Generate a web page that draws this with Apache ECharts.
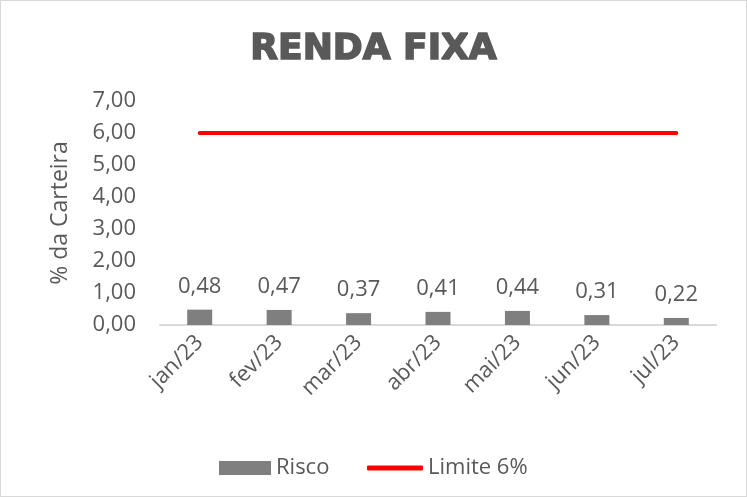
<!DOCTYPE html>
<html>
<head>
<meta charset="utf-8">
<script src="https://cdn.jsdelivr.net/npm/echarts@6/dist/echarts.min.js"></script>
<style>
html,body{margin:0;padding:0;background:#fff;}
#chart{width:745px;height:495px;border:1px solid #d9d9d9;}
</style>
</head>
<body>
<div id="chart"></div>
<script>
// categorias e valores
var meses = ['jan/23','fev/23','mar/23','abr/23','mai/23','jun/23','jul/23'];
var risco = [0.48, 0.47, 0.37, 0.41, 0.44, 0.31, 0.22];
var limite = [6, 6, 6, 6, 6, 6, 6];

var corTexto = '#595959';
var fonte = 'Open Sans';

function virgula(v){
    return v.toFixed(2).replace('.', ',');
}

var myChart = echarts.init(document.getElementById('chart'));
var option = {
    backgroundColor:'#fff',
    animation:false,
    title:{
        text:'RENDA FIXA',
        left:'center',
        top:26,
        textStyle:{
            color:corTexto,
            fontFamily:'DejaVu Sans',
            fontWeight:'bold',
            fontSize:36,
            textBorderColor:corTexto,
            textBorderWidth:1.6
        }
    },
    grid:{left:159, right:30, top:100, bottom:171},
    legend:[{
        top:451,
        left:213,
        itemWidth:52,
        itemHeight:14,
        textStyle:{color:corTexto, fontFamily:fonte, fontSize:22},
        data:[{name:'Risco', icon:'rect'}]
    },{
        top:451,
        left:361,
        itemWidth:56,
        itemHeight:5,
        itemGap:4,
        textStyle:{color:corTexto, fontFamily:fonte, fontSize:22},
        data:[{name:'Limite 6%', icon:'roundRect'}]
    }],
    xAxis:{
        type:'category',
        data:meses,
        axisLine:{lineStyle:{color:'#d9d9d9', width:2}},
        axisTick:{show:false},
        axisLabel:{
            rotate:45,
            color:corTexto,
            fontFamily:fonte,
            fontSize:22,
            margin:14
        }
    },
    yAxis:{
        type:'value',
        min:0,
        max:7,
        interval:1,
        name:'% da Carteira',
        nameLocation:'middle',
        nameGap:88,
        nameTextStyle:{color:corTexto, fontFamily:fonte, fontSize:23},
        splitLine:{show:false},
        axisLine:{show:false},
        axisTick:{show:false},
        axisLabel:{
            color:corTexto,
            fontFamily:fonte,
            fontSize:22,
            margin:24,
            formatter:virgula
        }
    },
    series:[{
        name:'Risco',
        type:'bar',
        data:risco,
        barWidth:25,
        itemStyle:{color:'#7f7f7f'},
        label:{
            show:true,
            position:'top',
            distance:12,
            color:corTexto,
            fontFamily:fonte,
            fontSize:22,
            formatter:function(p){return virgula(p.value);}
        }
    },{
        name:'Limite 6%',
        type:'line',
        data:limite,
        symbol:'none',
        lineStyle:{color:'#ff0000', width:4, cap:'round'},
        itemStyle:{color:'#ff0000'}
    }]
};
myChart.setOption(option);
</script>
</body>
</html>
